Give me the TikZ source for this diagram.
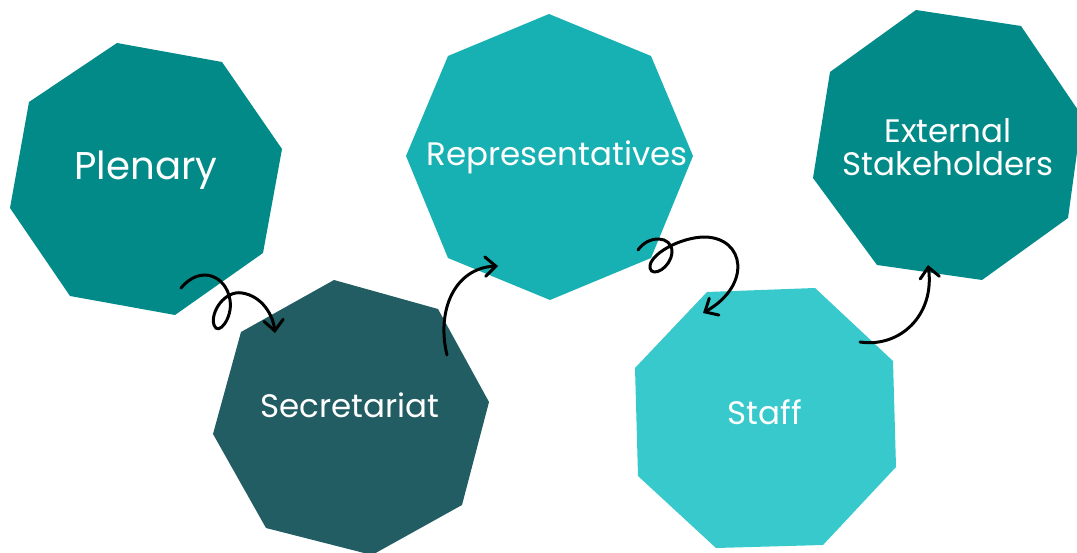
\documentclass[tikz,border=0pt]{standalone}
\usepackage{xcolor}
\usepackage{fontspec}
\setmainfont{Poppins}
\usetikzlibrary{arrows.meta}

\definecolor{tealdark}{HTML}{028A88}
\definecolor{tealmid}{HTML}{17B0B3}
\definecolor{tealdeep}{HTML}{225D63}
\definecolor{teallight}{HTML}{37C9CB}

\begin{document}
\begin{tikzpicture}[x=0.02cm, y=-0.02cm,
    label/.style={text=white, align=center, font=\fontsize{18.5}{19}\selectfont},
    flow/.style={line width=1.7pt, line cap=round, -{Straight Barb[length=6pt, width=11pt, line cap=round]}}]
    \useasboundingbox (0,0) rectangle (1077,553);
    \begin{scope}
    \clip (0,0) rectangle (1077,553);

    \fill[tealdark] (117,43) -- (222,62) -- (282,149) -- (263,253) -- (175,315) -- (70,296) -- (10,208) -- (29,102) -- cycle;
    \fill[tealdeep] (334,280) -- (438,309) -- (489,402) -- (462,505) -- (372,555) -- (266,528) -- (213,434) -- (241,332) -- cycle;
    \fill[tealmid] (549,14) -- (651,56) -- (693,156) -- (651,258) -- (550,300) -- (448,258) -- (406,156) -- (448,56) -- cycle;
    \fill[teallight] (707,292) -- (815,288) -- (893,361) -- (896,467) -- (823,545) -- (716,548) -- (638,476) -- (635,368) -- cycle;
    \fill[tealdark] (916,10) -- (1021,26) -- (1082,116) -- (1068,218) -- (982,280) -- (877,265) -- (813,178) -- (830,72) -- cycle;
    \end{scope}

    \node[label, font=\fontsize{22}{26}\selectfont] at (146,170) (plenary) {Plenary};
    \node[label] at (350,405) (secretariat) {Secretariat};
    \node[label] at (557,157) (representatives) {Representatives};
    \node[label] at (765,412) (staff) {Staff};
    \node[label] at (948,147) (external) {External\\Stakeholders};

    \coordinate (plenary-out) at (181,288);
    \coordinate (secretariat-in) at (275,333);
    \coordinate (secretariat-out) at (447,355);
    \coordinate (representatives-in) at (498,266);
    \coordinate (representatives-out) at (638,250);
    \coordinate (staff-in) at (703,313);
    \coordinate (staff-out) at (860,342);
    \coordinate (external-in) at (928,265);

    \draw[flow] (plenary-out) .. controls (200,265) and (226,275) .. (230,300)
        .. controls (233,318) and (218,337) .. (214,325)
        .. controls (210,312) and (225,290) .. (242,293)
        .. controls (262,296) and (273,315) .. (secretariat-in);
    \draw[flow] (secretariat-out) .. controls (436,310) and (455,268) .. (representatives-in);
    \draw[flow] (representatives-out) .. controls (648,235) and (672,235) .. (672,252)
        .. controls (671,268) and (652,278) .. (650,268)
        .. controls (648,255) and (680,237) .. (705,237)
        .. controls (745,238) and (752,285) .. (staff-in);
    \draw[flow] (staff-out) .. controls (900,348) and (935,315) .. (external-in);
\end{tikzpicture}
\end{document}
